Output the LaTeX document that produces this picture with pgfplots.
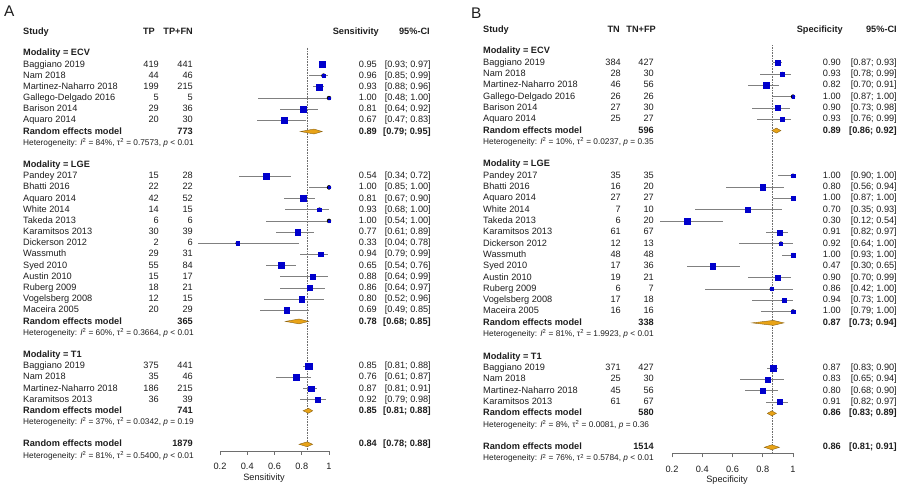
\documentclass[border=0pt]{standalone}
\usepackage{pgfplots}
\pgfplotsset{compat=1.18}
\usepackage{pgfplotstable}
\usepackage{fontspec}
\setmainfont{Liberation Sans}
\definecolor{sq}{HTML}{0000CC}
\definecolor{dia}{HTML}{E8A317}
\definecolor{diab}{HTML}{8C6210}
\definecolor{ln}{HTML}{808080}
\definecolor{ax}{HTML}{6E6E6E}
\definecolor{txt}{HTML}{1E1E1E}
\newcommand\fs{\fontsize{9.2}{11}\selectfont}
\newcommand\fh{\fontsize{8.3}{10}\selectfont}

% r = row, est, lo, hi, s = half side of square (pt)
\pgfplotstableread{
r est lo hi s
1 0.95 0.93 0.97 3.0
2 0.96 0.85 0.99 1.7
3 0.93 0.88 0.96 3.0
4 1.00 0.48 1.00 1.1
5 0.81 0.64 0.92 2.7
6 0.67 0.47 0.83 2.8
11 0.54 0.34 0.72 3.0
12 1.00 0.85 1.00 1.1
13 0.81 0.67 0.90 3.0
14 0.93 0.68 1.00 1.8
15 1.00 0.54 1.00 1.1
16 0.77 0.61 0.89 2.8
17 0.33 0.04 0.78 1.8
18 0.94 0.79 0.99 2.2
19 0.65 0.54 0.76 3.0
20 0.88 0.64 0.99 2.3
21 0.86 0.64 0.97 2.3
22 0.80 0.52 0.96 2.7
23 0.69 0.49 0.85 2.8
28 0.85 0.81 0.88 3.2
29 0.76 0.61 0.87 2.8
30 0.87 0.81 0.91 2.7
31 0.92 0.79 0.98 2.5
}\studiesA

\pgfplotstableread{
r est lo hi s
1 0.90 0.87 0.93 2.3
2 0.93 0.78 0.99 2.0
3 0.82 0.70 0.91 3.0
4 1.00 0.87 1.00 1.1
5 0.90 0.73 0.98 2.3
6 0.93 0.76 0.99 2.2
11 1.00 0.90 1.00 1.8
12 0.80 0.56 0.94 2.7
13 1.00 0.87 1.00 1.8
14 0.70 0.35 0.93 2.7
15 0.30 0.12 0.54 2.8
16 0.91 0.82 0.97 2.5
17 0.92 0.64 1.00 1.7
18 1.00 0.93 1.00 1.8
19 0.47 0.30 0.65 2.8
20 0.90 0.70 0.99 2.3
21 0.86 0.42 1.00 1.7
22 0.94 0.73 1.00 2.0
23 1.00 0.79 1.00 1.7
28 0.87 0.83 0.90 2.8
29 0.83 0.65 0.94 2.5
30 0.80 0.68 0.90 2.7
31 0.91 0.82 0.97 2.5
}\studiesB

\tikzset{nm/.style={anchor=mid west, inner sep=0pt},
         nr/.style={anchor=mid east, inner sep=0pt}}
\newcommand\st[6]{%
  \node[nm] at (\cN,#1) {#2};
  \node[nr] at (\cP,#1) {#3};
  \node[nr] at (\cQ,#1) {#4};
  \node[nr] at (\cE,#1) {#5};
  \node[nr] at (\cC,#1) {[#6]};}
\newcommand\re[4]{%
  \node[nm, font=\fs\bfseries] at (\cN,#1) {Random effects model};
  \node[nr, font=\fs\bfseries] at (\cQ,#1) {#2};
  \node[nr, font=\fs\bfseries] at (\cE,#1) {#3};
  \node[nr, font=\fs\bfseries] at (\cC,#1) {[#4]};}
\newcommand\het[4]{%
  \node[nm, font=\fh] at (\cN,#1) {Heterogeneity: \textit{I}\textsuperscript{2} = #2\%, τ\textsuperscript{2} = #3, \textit{p} #4};}
\newcommand\mo[2]{\node[nm, font=\fs\bfseries] at (\cN,#1) {Modality = #2};}

\pgfplotsset{forest/.style={anchor=south west, scale only axis,
  xmin=0.2, xmax=1, ymax=2, clip=false,
  axis x line*=bottom, axis y line=none, x axis line style={-},
  axis line style={ax, line width=0.6pt},
  xtick={0.2,0.4,0.6,0.8,1}, tick align=outside, major tick length=4pt,
  xtick style={ax, line width=0.6pt},
  ticklabel style={font=\fs, text=txt}, /pgf/number format/assume math mode=true,
  xticklabel style={yshift=-5pt},
  xlabel style={font=\fs, text=txt, anchor=mid, yshift=-27pt}},
  ci/.style={only marks, mark=none, error bars/.cd, x dir=both, x explicit,
    error mark=none, error bar style={ln, line width=0.7pt}},
  sqs/.style={scatter, only marks, mark=square*, scatter/use mapped color={draw=sq, fill=sq},
    visualization depends on={\thisrow{s}\as\msz},
    scatter/@pre marker code/.append style={/tikz/mark size=\msz}},
  dm/.style={fill=dia, draw=diab, line width=0.4pt},
  vl/.style={ax, densely dotted, line width=0.6pt}}

\begin{document}
\begin{tikzpicture}[x=1pt, y=1pt, font=\fs, text=txt]
\useasboundingbox (0,0) rectangle (900,489);
\node[anchor=base west, inner sep=0pt, font=\fontsize{15.4}{16}\selectfont] at (4,472) {A};
\node[anchor=base west, inner sep=0pt, font=\fontsize{15.4}{16}\selectfont] at (471,470.7) {B};

% ---------------- Panel A ----------------
\begin{axis}[forest, at={(220pt,38pt)}, width=109pt, height=420pt, ymin=-35.6,
  xlabel={Sensitivity}, xlabel style={at={(axis description cs:0.404,0)}}]
\addplot[vl] coordinates {(0.84,0.5) (0.84,-35.6)};
\addplot[ci] table[x=est, y expr=-\thisrow{r}, x error plus expr=\thisrow{hi}-\thisrow{est}, x error minus expr=\thisrow{est}-\thisrow{lo}] {\studiesA};
\addplot[sqs] table[x=est, y expr=-\thisrow{r}] {\studiesA};
\addplot[dm] coordinates {(0.79,-7) (0.89,-6.78) (0.95,-7) (0.89,-7.22)} -- cycle;
\addplot[dm] coordinates {(0.68,-24) (0.78,-23.78) (0.85,-24) (0.78,-24.22)} -- cycle;
\addplot[dm] coordinates {(0.81,-32) (0.85,-31.78) (0.88,-32) (0.85,-32.22)} -- cycle;
\addplot[dm] coordinates {(0.78,-35) (0.84,-34.78) (0.88,-35) (0.84,-35.22)} -- cycle;
\end{axis}

\def\cN{23}\def\cP{159}\def\cQ{193}\def\cE{377}\def\cC{431}
\begin{scope}[shift={(0pt,435.7pt)}, x=1pt, y=-11.17pt]
\node[nm, font=\fs\bfseries] at (\cN,-1.9) {Study};
\node[nr, font=\fs\bfseries] at (155,-1.9) {TP};
\node[nr, font=\fs\bfseries] at (193,-1.9) {TP+FN};
\node[nr, font=\fs\bfseries] at (379,-1.9) {Sensitivity};
\node[nr, font=\fs\bfseries] at (430,-1.9) {95\%-CI};
\mo{0}{ECV}
\st{1}{Baggiano 2019}{419}{441}{0.95}{0.93; 0.97}
\st{2}{Nam 2018}{44}{46}{0.96}{0.85; 0.99}
\st{3}{Martinez-Naharro 2018}{199}{215}{0.93}{0.88; 0.96}
\st{4}{Gallego-Delgado 2016}{5}{5}{1.00}{0.48; 1.00}
\st{5}{Barison 2014}{29}{36}{0.81}{0.64; 0.92}
\st{6}{Aquaro 2014}{20}{30}{0.67}{0.47; 0.83}
\re{7}{773}{0.89}{0.79; 0.95}
\het{8}{84}{0.7573}{< 0.01}
\mo{10}{LGE}
\st{11}{Pandey 2017}{15}{28}{0.54}{0.34; 0.72}
\st{12}{Bhatti 2016}{22}{22}{1.00}{0.85; 1.00}
\st{13}{Aquaro 2014}{42}{52}{0.81}{0.67; 0.90}
\st{14}{White 2014}{14}{15}{0.93}{0.68; 1.00}
\st{15}{Takeda 2013}{6}{6}{1.00}{0.54; 1.00}
\st{16}{Karamitsos 2013}{30}{39}{0.77}{0.61; 0.89}
\st{17}{Dickerson 2012}{2}{6}{0.33}{0.04; 0.78}
\st{18}{Wassmuth}{29}{31}{0.94}{0.79; 0.99}
\st{19}{Syed 2010}{55}{84}{0.65}{0.54; 0.76}
\st{20}{Austin 2010}{15}{17}{0.88}{0.64; 0.99}
\st{21}{Ruberg 2009}{18}{21}{0.86}{0.64; 0.97}
\st{22}{Vogelsberg 2008}{12}{15}{0.80}{0.52; 0.96}
\st{23}{Maceira 2005}{20}{29}{0.69}{0.49; 0.85}
\re{24}{365}{0.78}{0.68; 0.85}
\het{25}{60}{0.3664}{< 0.01}
\mo{27}{T1}
\st{28}{Baggiano 2019}{375}{441}{0.85}{0.81; 0.88}
\st{29}{Nam 2018}{35}{46}{0.76}{0.61; 0.87}
\st{30}{Martinez-Naharro 2018}{186}{215}{0.87}{0.81; 0.91}
\st{31}{Karamitsos 2013}{36}{39}{0.92}{0.79; 0.98}
\re{32}{741}{0.85}{0.81; 0.88}
\het{33}{37}{0.0342}{= 0.19}
\re{35}{1879}{0.84}{0.78; 0.88}
\het{36}{81}{0.5400}{< 0.01}
\end{scope}

% ---------------- Panel B ----------------
\begin{axis}[forest, at={(672pt,35.7pt)}, width=121pt, height=424.5pt, ymin=-35.53,
  xlabel={Specificity}, xlabel style={at={(axis description cs:0.455,0)}}]
\addplot[vl] coordinates {(0.86,0.55) (0.86,-35.53)};
\addplot[ci] table[x=est, y expr=-\thisrow{r}, x error plus expr=\thisrow{hi}-\thisrow{est}, x error minus expr=\thisrow{est}-\thisrow{lo}] {\studiesB};
\addplot[sqs] table[x=est, y expr=-\thisrow{r}] {\studiesB};
\addplot[dm] coordinates {(0.86,-7) (0.89,-6.78) (0.92,-7) (0.89,-7.22)} -- cycle;
\addplot[dm] coordinates {(0.73,-24) (0.87,-23.78) (0.94,-24) (0.87,-24.22)} -- cycle;
\addplot[dm] coordinates {(0.83,-32) (0.86,-31.78) (0.89,-32) (0.86,-32.22)} -- cycle;
\addplot[dm] coordinates {(0.81,-35) (0.86,-34.78) (0.91,-35) (0.86,-35.22)} -- cycle;
\end{axis}

\def\cN{483}\def\cP{621}\def\cQ{654}\def\cE{841}\def\cC{897}
\begin{scope}[shift={(0pt,437.8pt)}, x=1pt, y=-11.31pt]
\node[nm, font=\fs\bfseries] at (\cN,-1.9) {Study};
\node[nr, font=\fs\bfseries] at (620,-1.9) {TN};
\node[nr, font=\fs\bfseries] at (656,-1.9) {TN+FP};
\node[nr, font=\fs\bfseries] at (843,-1.9) {Specificity};
\node[nr, font=\fs\bfseries] at (897,-1.9) {95\%-CI};
\mo{0}{ECV}
\st{1}{Baggiano 2019}{384}{427}{0.90}{0.87; 0.93}
\st{2}{Nam 2018}{28}{30}{0.93}{0.78; 0.99}
\st{3}{Martinez-Naharro 2018}{46}{56}{0.82}{0.70; 0.91}
\st{4}{Gallego-Delgado 2016}{26}{26}{1.00}{0.87; 1.00}
\st{5}{Barison 2014}{27}{30}{0.90}{0.73; 0.98}
\st{6}{Aquaro 2014}{25}{27}{0.93}{0.76; 0.99}
\re{7}{596}{0.89}{0.86; 0.92}
\het{8}{10}{0.0237}{= 0.35}
\mo{10}{LGE}
\st{11}{Pandey 2017}{35}{35}{1.00}{0.90; 1.00}
\st{12}{Bhatti 2016}{16}{20}{0.80}{0.56; 0.94}
\st{13}{Aquaro 2014}{27}{27}{1.00}{0.87; 1.00}
\st{14}{White 2014}{7}{10}{0.70}{0.35; 0.93}
\st{15}{Takeda 2013}{6}{20}{0.30}{0.12; 0.54}
\st{16}{Karamitsos 2013}{61}{67}{0.91}{0.82; 0.97}
\st{17}{Dickerson 2012}{12}{13}{0.92}{0.64; 1.00}
\st{18}{Wassmuth}{48}{48}{1.00}{0.93; 1.00}
\st{19}{Syed 2010}{17}{36}{0.47}{0.30; 0.65}
\st{20}{Austin 2010}{19}{21}{0.90}{0.70; 0.99}
\st{21}{Ruberg 2009}{6}{7}{0.86}{0.42; 1.00}
\st{22}{Vogelsberg 2008}{17}{18}{0.94}{0.73; 1.00}
\st{23}{Maceira 2005}{16}{16}{1.00}{0.79; 1.00}
\re{24}{338}{0.87}{0.73; 0.94}
\het{25}{81}{1.9923}{< 0.01}
\mo{27}{T1}
\st{28}{Baggiano 2019}{371}{427}{0.87}{0.83; 0.90}
\st{29}{Nam 2018}{25}{30}{0.83}{0.65; 0.94}
\st{30}{Martinez-Naharro 2018}{45}{56}{0.80}{0.68; 0.90}
\st{31}{Karamitsos 2013}{61}{67}{0.91}{0.82; 0.97}
\re{32}{580}{0.86}{0.83; 0.89}
\het{33}{8}{0.0081}{= 0.36}
\re{35}{1514}{0.86}{0.81; 0.91}
\het{36}{76}{0.5784}{< 0.01}
\end{scope}
\end{tikzpicture}
\end{document}
